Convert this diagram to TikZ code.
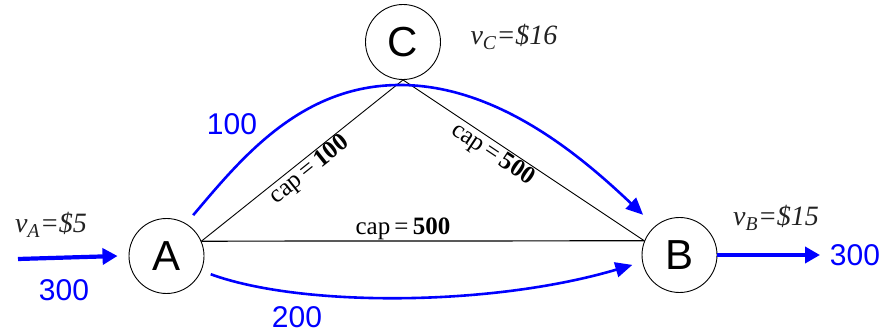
\documentclass[tikz,border=0pt]{standalone}
\usepackage{fontspec}
\setmainfont{Liberation Serif}
\newfontfamily\arialfont{Liberation Sans}
\usetikzlibrary{arrows.meta,calc}
\definecolor{flowblue}{RGB}{0,0,255}
\definecolor{txtgray}{RGB}{34,34,34}
\begin{document}
\begin{tikzpicture}[x=1pt,y=-1pt,
  vertex/.style={circle,draw,line width=0.9pt,minimum size=75pt,inner sep=0pt,font=\arialfont\fontsize{42}{42}\selectfont},
  capline/.style={draw,line width=0.9pt},
  flow/.style={draw=flowblue,line width=2.6pt,-{Triangle[length=17pt,width=15pt]}},
  ioflow/.style={draw=flowblue,line width=4.2pt,-{Triangle[length=15pt,width=16pt]}},
  flowlab/.style={text=flowblue,font=\arialfont\fontsize{30}{30}\selectfont},
  value/.style={text=txtgray,font=\fontsize{28}{28}\selectfont\itshape},
  caplab/.style={font=\fontsize{25}{25}\selectfont,inner sep=1pt}]
\useasboundingbox (0,0) rectangle (890,336);

\node[vertex] (A) at (166.5,256) {A};
\node[vertex] (B) at (679.5,255) {B};
\node[vertex] (C) at (403,42) {C};

\draw[capline] (A.23) -- node[caplab,sloped,below,pos=0.5] {cap\,=\,\textbf{100}} (C.south);
\draw[capline] (C.south) -- node[caplab,sloped,below,pos=0.4] {cap\,=\,\textbf{500}} (B.158);
\draw[capline,line width=1.2pt] (A.23) -- node[caplab,above,pos=0.455] {cap\,=\,\textbf{500}} (B.158);

\coordinate (inA) at (18,259);
\coordinate (outB) at (820,255);
\draw[ioflow] (inA) -- ([xshift=-11pt]A.west);
\draw[ioflow] (B.east) -- (outB);

\draw[flow] ([shift={(6,-9)}]A.57) .. controls (240,160) and (300,85) .. (400,85)
  .. controls (500,85) and (585,160) .. ([shift={(-11,-12)}]B.132);
\draw[flow] ([shift={(9,4)}]A.-22) .. controls (300,307) and (490,307) .. ([shift={(-10,2)}]B.192);

\node[flowlab] (l100) at (232,124) {100};
\node[flowlab] (l300a) at (64,290) {300};
\node[flowlab] (l300b) at (855,255) {300};
\node[flowlab] (l200) at (297,317) {200};

\node[value] (vA) at (51,225) {v\textsubscript{A}=\$5};
\node[value] (vB) at (776,218) {v\textsubscript{B}=\$15};
\node[value] (vC) at (514,37) {v\textsubscript{C}=\$16};
\end{tikzpicture}
\end{document}
